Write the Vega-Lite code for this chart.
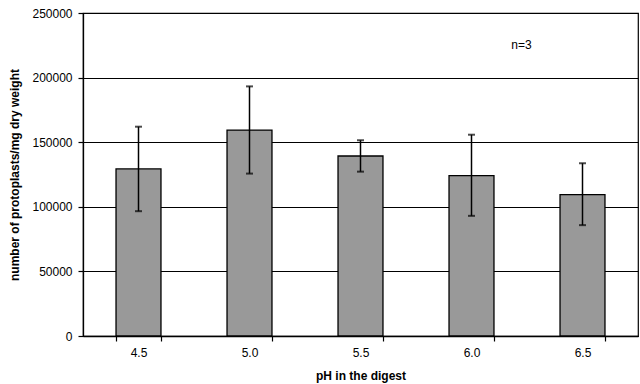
{
  "$schema": "https://vega.github.io/schema/vega-lite/v6.json",
  "autosize": {"type": "none"},
  "padding": {"left": 83, "top": 13, "right": 2, "bottom": 48},
  "width": 555,
  "height": 323,
  "background": "white",
  "config": {
    "font": "Liberation Sans",
    "view": {"stroke": "black", "strokeWidth": 1.2},
    "axis": {
      "labelFont": "Liberation Sans",
      "titleFont": "Liberation Sans",
      "labelFontSize": 12,
      "titleFontSize": 12,
      "labelColor": "black",
      "titleColor": "black",
      "domainColor": "black",
      "tickColor": "black",
      "gridColor": "black",
      "gridOpacity": 1,
      "tickSize": 5,
      "domainWidth": 1.3,
      "tickWidth": 1.2
    }
  },
  "data": {
    "values": [
      {"pH": "4.5", "mean": 129300, "lo": 96600, "hi": 162000},
      {"pH": "5.0", "mean": 159400, "lo": 125700, "hi": 193200},
      {"pH": "5.5", "mean": 139300, "lo": 127200, "hi": 151500},
      {"pH": "6.0", "mean": 124100, "lo": 93000, "hi": 155800},
      {"pH": "6.5", "mean": 109400, "lo": 85800, "hi": 133700}
    ]
  },
  "encoding": {
    "x": {
      "field": "pH",
      "type": "ordinal",
      "sort": null,
      "scale": {"paddingInner": 0.595, "paddingOuter": 0.2975},
      "axis": {
        "title": "pH in the digest",
        "titleFontWeight": "bold",
        "labelAngle": 0,
        "tickBand": "extent",
        "labelPadding": 6,
        "titlePadding": 12
      }
    }
  },
  "layer": [
    {
      "mark": {"type": "bar", "color": "#999999", "stroke": "black", "strokeWidth": 1.3},
      "encoding": {
        "y": {
          "field": "mean",
          "type": "quantitative",
          "scale": {"domain": [0, 250000], "nice": false},
          "axis": {
            "title": "number of protoplasts/mg dry weight",
            "titleFontWeight": "bold",
            "values": [0, 50000, 100000, 150000, 200000, 250000],
            "format": "d",
            "grid": true,
            "gridWidth": 1.2,
            "labelPadding": 6,
            "titlePadding": 10
          }
        }
      }
    },
    {
      "mark": {"type": "rule", "color": "black", "strokeWidth": 1.5},
      "encoding": {
        "y": {"field": "lo", "type": "quantitative"},
        "y2": {"field": "hi"}
      }
    },
    {
      "mark": {"type": "tick", "color": "black", "size": 7, "thickness": 2, "orient": "horizontal"},
      "encoding": {"y": {"field": "lo", "type": "quantitative"}}
    },
    {
      "mark": {"type": "tick", "color": "black", "size": 7, "thickness": 2, "orient": "horizontal"},
      "encoding": {"y": {"field": "hi", "type": "quantitative"}}
    },
    {
      "data": {"values": [{"label": "n=3", "pH": "6.5", "yv": 225000}]},
      "mark": {"type": "text", "fontSize": 12, "color": "black", "dx": -61, "baseline": "middle", "align": "center"},
      "encoding": {
        "y": {"field": "yv", "type": "quantitative"},
        "text": {"field": "label"}
      }
    }
  ]
}
